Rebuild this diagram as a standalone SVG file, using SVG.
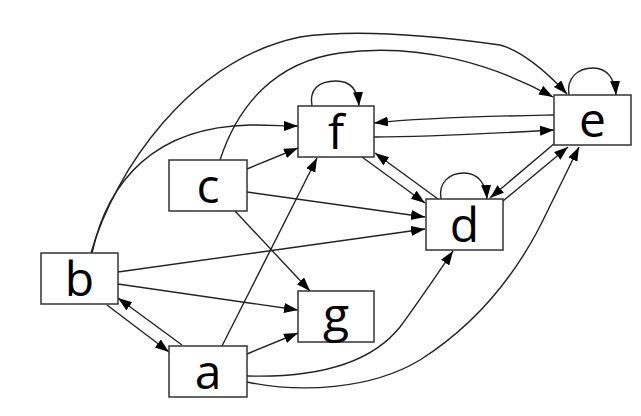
<svg xmlns="http://www.w3.org/2000/svg" width="641" height="416" viewBox="0 0 641 416">
<style>
.node rect{fill:#fff;stroke:#333;stroke-width:1.5}
.node text{font-family:"Open Sans","Noto Sans",sans-serif;font-size:48px;fill:#000;text-anchor:middle}
.edges path{fill:none;stroke:#222;stroke-width:1.4;marker-end:url(#ah)}
</style>
<defs>
<marker id="ah" markerUnits="userSpaceOnUse" markerWidth="15" markerHeight="11" refX="14" refY="5" orient="auto" viewBox="0 0 15 11">
<path d="M0,0 L14,5 L0,10 z" fill="#000"/>
</marker>
</defs>
<rect width="641" height="416" fill="#fff"/>
<g class="edges">
<path d="M91,253 C115,170 190,60 300,37 C360,28 450,38 500,45 C520,50 545,70 567,94"/>
<path d="M220,160 C238,105 275,62 340,53 C420,42 495,65 553,97"/>
<path d="M92,253 C108,180 155,127 250,125 C270,125 285,126 298,126"/>
<path d="M247,169 L298,148"/>
<path d="M247,192 L425,217"/>
<path d="M235,211 L310,291"/>
<path d="M118,272 L425,229"/>
<path d="M118,284 L298,310"/>
<path d="M107,305 L169,352"/>
<path d="M182,345 L118,298"/>
<path d="M222,346 L317,158"/>
<path d="M247,354 L298,333"/>
<path d="M247,376 C320,378 372,362 400,327 C420,300 440,270 453,251"/>
<path d="M247,382 C300,393 370,390 420,360 C480,322 520,270 548,210 L579,147"/>
<path d="M312,106 C309,90 318,81 336,81 C352,81 358,92 359,106"/>
<path d="M569,95 C566,78 578,68 593,68 C608,68 615,80 616,95"/>
<path d="M441,199 C438,182 450,173 464,173 C478,173 486,184 487,199"/>
<path d="M554,115 C500,116 430,117 374,123"/>
<path d="M374,137 C430,137 500,133 554,130"/>
<path d="M362,157 L425,203"/>
<path d="M438,199 L375,153"/>
<path d="M555,143 L490,198"/>
<path d="M503,201 L568,147"/>
</g>
<g id="node-f" class="node"><rect x="298" y="106" width="76" height="51"/><text x="336" y="149">f</text></g>
<g id="node-e" class="node"><rect x="554" y="95" width="77" height="50"/><text x="592.5" y="137">e</text></g>
<g id="node-c" class="node"><rect x="169" y="160" width="78" height="51"/><text x="208" y="203">c</text></g>
<g id="node-d" class="node"><rect x="426" y="199" width="77" height="51"/><text x="464.5" y="242">d</text></g>
<g id="node-b" class="node"><rect x="41" y="253" width="77" height="51"/><text x="79.5" y="296">b</text></g>
<g id="node-g" class="node"><rect x="298" y="291" width="76" height="51"/><text x="336" y="332">g</text></g>
<g id="node-a" class="node"><rect x="169" y="346" width="78" height="51"/><text x="208" y="389">a</text></g>
</svg>
